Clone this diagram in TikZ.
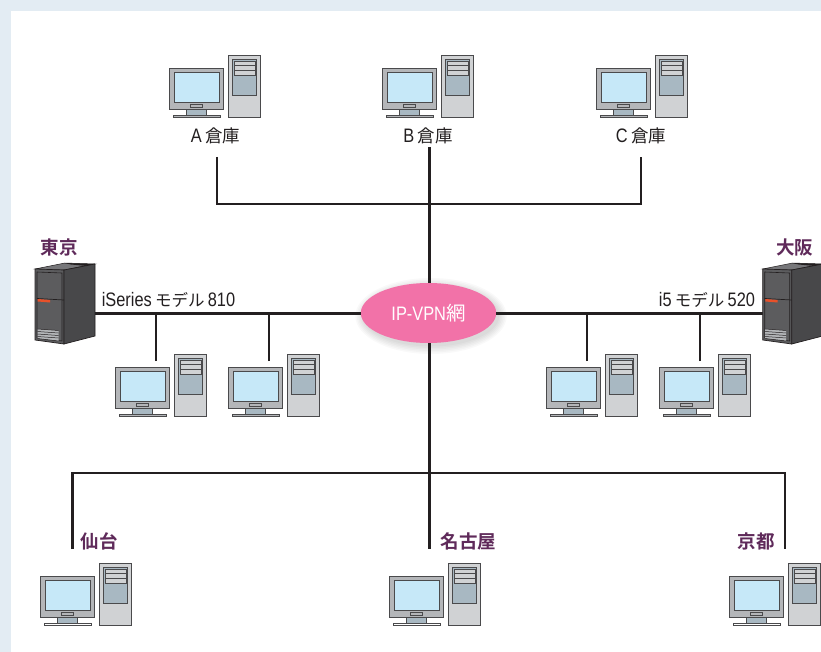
\documentclass[tikz,border=0pt]{standalone}
\usepackage{fontspec}
\setmainfont[FakeStretch=0.84]{Liberation Sans}
\newfontfamily\jp{Noto Sans CJK JP}
\newfontfamily\jpb{Noto Sans CJK JP Bold}
\newcommand{\kana}[1]{{\jp\fontsize{16.5}{20}\selectfont #1}}
\newcommand{\kanji}[1]{{\jp\fontsize{17.5}{20}\selectfont #1}}
\usetikzlibrary{shapes.geometric}
\definecolor{pageblue}{HTML}{E3ECF3}
\definecolor{screenblue}{HTML}{C6E8F8}
\definecolor{pcgray}{HTML}{D0D2D4}
\definecolor{framegray}{HTML}{B4B6B9}
\definecolor{baygray}{HTML}{A8B8C2}
\definecolor{ink}{HTML}{231F20}
\definecolor{pcedge}{HTML}{4A4A4C}
\definecolor{place}{HTML}{5F2A5A}
\definecolor{pinkcloud}{HTML}{F272A8}
\definecolor{srvfront}{HTML}{5C5C5E}
\definecolor{srvside}{HTML}{48484A}
\definecolor{srvtop}{HTML}{77777A}
\definecolor{orangebar}{HTML}{E8512A}
\tikzset{
  x=1pt,y=-1pt,
  wire/.style={draw=ink,line width=3pt},
  branch/.style={draw=ink,line width=2.2pt},
  pcline/.style={draw=pcedge,line width=.8pt},
  lbl/.style={text=ink,font=\fontsize{19.5}{20}\selectfont,inner sep=0pt,anchor=center},
  sitelbl/.style={text=place,font=\fontsize{18.5}{20}\selectfont\jpb,inner sep=0pt,anchor=center},
  pc/.pic={
    \draw[pcline,fill=framegray] (0,13) rectangle (54,54);
    \draw[pcline,fill=screenblue] (5,17.5) rectangle (50,47);
    \draw[pcline,fill=framegray,line width=.5pt] (21.5,49.5) rectangle (33,52);
    \draw[pcline,fill=baygray,line width=.4pt] (17,54) rectangle (37,60);
    \draw[pcline,fill=#1] (4,60) rectangle (51,62.5);
    \draw[pcline,fill=pcgray] (59,0) rectangle (91.5,62);
    \draw[pcline,fill=baygray] (63.5,4.5) rectangle (87.5,40);
    \draw[pcline,fill=pcgray] (65,6) rectangle (86,20);
    \draw[pcline] (65,10.5) -- (86,10.5) (65,15) -- (86,15);
  },
  server/.pic={
    \fill[srvtop,draw=ink,line width=.5pt] (0,6) -- (30,0) -- (60,1) -- (29,7) -- cycle;
    \fill[ink] (29,0) -- (60,1) -- (52,3) -- (36,1.5) -- cycle;
    \fill[srvfront,draw=ink,line width=.7pt] (0,6) -- (29,7) -- (29,81) -- (0,77) -- cycle;
    \fill[srvside,draw=ink,line width=.7pt] (29,7) -- (60,1) -- (60,73) -- (29,81) -- cycle;
    \draw[ink,line width=.6pt] (2,9) -- (27,10) -- (27,78) -- (2,75) -- cycle;
    \draw[ink,line width=.7pt] (2,35.5) -- (29,37);
    \fill[orangebar] (2.7,36) -- (15,37) -- (15,39.5) -- (2.7,38.5) -- cycle;
    \fill[framegray] (2.5,66) -- (23.5,67.5) -- (23.5,78) -- (2.5,75.5) -- cycle;
    \draw[ink,line width=.5pt] (2.5,66) -- (23.5,67.5) (2.5,68.5) -- (23.5,70) (2.5,71) -- (23.5,72.5) (2.5,73.5) -- (23.5,75) (2.5,75.5) -- (23.5,78);
  }
}
\begin{document}
\begin{tikzpicture}
\useasboundingbox (0,0) rectangle (821,652);
\fill[pageblue] (0,0) rectangle (821,652);
\fill[white] (11,11) rectangle (821,652);

% junctions and free ends
\coordinate (endA) at (217,157);
\coordinate (endB) at (429.5,147);
\coordinate (endC) at (641,157);
\coordinate (busTop) at (429.5,204);
\coordinate (dropL1) at (156,361);
\coordinate (dropL2) at (269,361);
\coordinate (dropR1) at (587,361);
\coordinate (dropR2) at (700,361);
\coordinate (endSen) at (72.5,549);
\coordinate (endNag) at (429.5,549);
\coordinate (endKyo) at (785,549);
\coordinate (busBot) at (429.5,473);
\coordinate (tokyoPort) at (95,313);
\coordinate (osakaPort) at (763,313);

% network node shadow
\foreach \g in {8,6.5,...,0}
  \fill[black,opacity=.022] (431,316) ellipse[x radius=67.7+\g,y radius=30+\g];
\node[ellipse,fill=pinkcloud,minimum width=135.4pt,minimum height=60pt,inner sep=0pt,text=white,font=\fontsize{19.5}{21}\selectfont] (vpn) at (428.5,313) {IP-VPN{\jp 網}};

% connectors
\draw[wire] (endB) -- (endB |- vpn.north);
\draw[wire] (endNag |- vpn.south) -- (endNag);
\draw[branch] (endA) |- (busTop) -| (endC);
\draw[branch] (endSen) |- (busBot) -| (endKyo);
\draw[wire] (tokyoPort) -- (tokyoPort -| vpn.west);
\draw[wire] (vpn.east |- osakaPort) -- (osakaPort);
\draw[branch] (dropL1) -- (dropL1 |- tokyoPort);
\draw[branch] (dropL2) -- (dropL2 |- tokyoPort);
\draw[branch] (dropR1) -- (dropR1 |- osakaPort);
\draw[branch] (dropR2) -- (dropR2 |- osakaPort);

% computers
\pic (pcA) at (169,55) {pc=framegray};
\pic (pcB) at (382,55) {pc=framegray};
\pic (pcC) at (596,55) {pc=framegray};
\pic (pcL1) at (115,354) {pc=framegray};
\pic (pcL2) at (228,354) {pc=framegray};
\pic (pcR1) at (546,354) {pc=framegray};
\pic (pcR2) at (659,354) {pc=framegray};
\pic (pcSen) at (40,563) {pc=white};
\pic (pcNag) at (389,563) {pc=white};
\pic (pcKyo) at (729,563) {pc=white};

% servers
\pic (srvT) at (35,263) {server};
\pic (srvO) at (762.7,263) {server};

% labels
\node[lbl] (lblA) at (215.5,136) {A\,\kanji{倉庫}};
\node[lbl] (lblB) at (428,136) {B\,\kanji{倉庫}};
\node[lbl] (lblC) at (641,136) {C\,\kanji{倉庫}};
\node[lbl] (lblI) at (168.5,300) {iSeries\,\kana{モデル}\,810};
\node[lbl] (lblF) at (707,300) {i5\,\kana{モデル}\,520};
\node[sitelbl] (tokyo) at (59,247) {東京};
\node[sitelbl] (osaka) at (794.5,247) {大阪};
\node[sitelbl] (sendai) at (99,541) {仙台};
\node[sitelbl] (nagoya) at (468.5,541) {名古屋};
\node[sitelbl] (kyoto) at (756,541) {京都};
\end{tikzpicture}
\end{document}
